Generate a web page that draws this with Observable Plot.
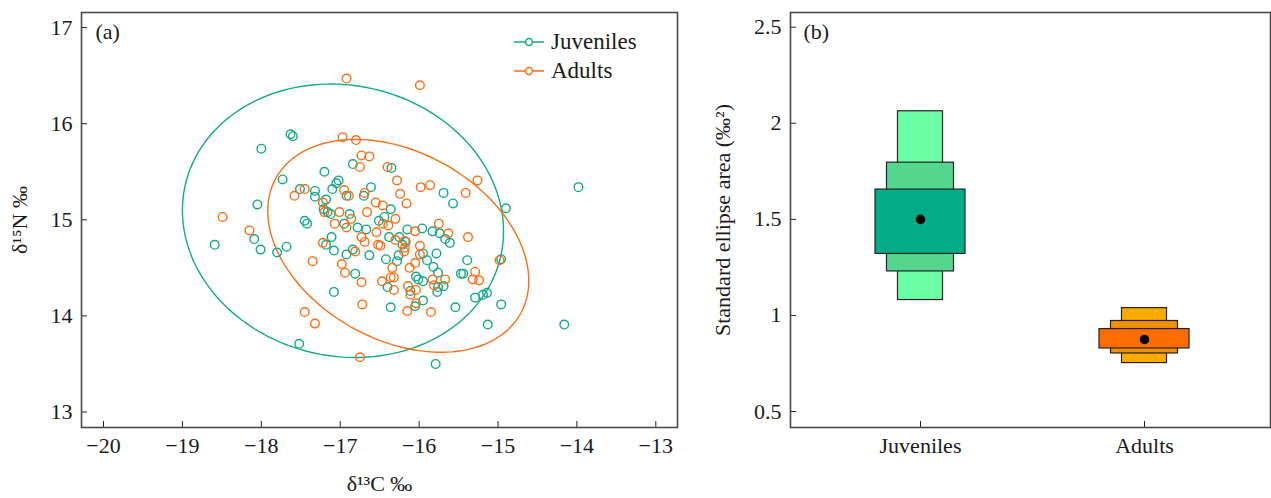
<!DOCTYPE html>
<html><head><meta charset="utf-8">
<script src="https://cdn.jsdelivr.net/npm/d3@7"></script>
<script src="https://cdn.jsdelivr.net/npm/@observablehq/plot@0.6"></script>
<style>
html,body{margin:0;padding:0;background:#fff;}
#wrap{position:relative;width:1271px;height:498px;display:flex;font-family:"Liberation Serif",serif;overflow:hidden;}
#pa,#pb{flex:none;}
#legend{position:absolute;left:0;top:0;}
</style></head><body>
<div id="wrap"><div id="pa"></div><div id="pb"></div>
<svg id="legend" width="690" height="100" font-family="Liberation Serif" font-size="23" fill="#1a1a1a">
  <line x1="514" x2="544" y1="42" y2="42" stroke="#13a98a" stroke-width="1.5"/>
  <circle cx="529" cy="42" r="3.4" fill="white" stroke="#13a98a" stroke-width="1.5"/>
  <text x="551" y="49">Juveniles</text>
  <line x1="514" x2="544" y1="71" y2="71" stroke="#fa6e15" stroke-width="1.5"/>
  <circle cx="529" cy="71" r="3.4" fill="white" stroke="#fa6e15" stroke-width="1.5"/>
  <text x="551" y="78">Adults</text>
</svg>
</div>
<script>
// ---- Panel (a) data: isotope values ----
const juvD13C = [-17.63,-17.60,-18.00,-17.73,-18.05,-17.20,-16.84,-17.02,-17.05,-17.10,-17.51,-17.32,-17.32,-17.18,-16.61,-16.70,-16.92,-17.21,-17.16,-17.12,-16.88,-17.45,-17.42,-16.95,-16.78,-16.67,-16.51,-18.59,-18.09,-18.01,-17.80,-17.68,-17.11,-17.18,-17.08,-16.84,-16.92,-16.63,-16.35,-15.69,-15.57,-14.90,-16.36,-16.44,-16.15,-15.96,-15.83,-15.74,-15.67,-15.61,-16.17,-16.21,-16.25,-16.38,-16.42,-16.26,-15.95,-15.78,-15.39,-14.96,-16.28,-15.90,-15.82,-15.76,-16.04,-16.01,-15.95,-15.47,-15.44,-15.76,-15.77,-15.69,-16.40,-16.11,-16.05,-15.95,-16.36,-16.81,-17.08,-15.54,-15.29,-15.19,-15.14,-14.96,-15.13,-17.52,-15.79,-14.16,-13.98];
const juvD15N = [15.89,15.87,15.74,15.42,15.16,15.50,15.58,15.41,15.38,15.32,15.32,15.30,15.24,15.21,15.34,15.25,15.25,15.11,15.08,15.06,15.06,14.99,14.96,14.96,14.92,14.90,14.99,14.74,14.80,14.69,14.66,14.72,14.82,14.74,14.68,14.69,14.64,14.63,15.54,15.28,15.17,15.12,15.11,15.03,14.90,14.91,14.88,14.86,14.80,14.76,14.77,14.74,14.82,14.82,14.59,14.63,14.65,14.65,14.58,14.59,14.57,14.58,14.51,14.45,14.41,14.38,14.36,14.44,14.44,14.30,14.25,14.31,14.30,14.26,14.10,14.16,14.09,14.44,14.25,14.09,14.19,14.22,14.24,14.12,13.91,13.71,13.50,13.91,15.34];
const adD13C = [-16.92,-15.99,-16.97,-16.80,-16.73,-16.63,-16.75,-18.49,-18.15,-17.58,-17.45,-17.22,-17.20,-17.07,-17.01,-16.95,-16.89,-16.92,-16.86,-16.66,-16.69,-16.55,-16.54,-16.73,-16.69,-17.22,-16.81,-16.52,-16.40,-16.28,-16.24,-16.16,-15.98,-15.86,-15.26,-15.41,-16.46,-16.30,-16.39,-16.46,-16.49,-16.30,-16.18,-16.05,-15.75,-15.63,-15.38,-17.35,-16.18,-15.99,-15.99,-16.19,-14.98,-16.98,-16.94,-16.73,-16.34,-16.36,-16.32,-16.47,-16.32,-16.12,-16.05,-16.14,-16.11,-16.04,-15.83,-15.81,-15.67,-16.04,-16.15,-15.85,-16.72,-17.45,-17.32,-16.75,-15.32,-15.29,-15.24];
const adD15N = [16.47,16.40,15.86,15.83,15.67,15.66,15.55,15.03,14.89,15.25,15.32,15.18,15.08,14.96,15.08,15.31,15.25,14.92,15.01,15.08,15.28,15.18,14.87,14.82,14.77,14.76,14.67,14.74,15.55,15.41,15.27,15.17,15.34,15.36,15.41,15.28,15.15,15.01,14.94,14.96,14.73,14.79,14.78,14.88,14.96,14.86,14.82,14.57,14.71,14.73,14.64,14.67,14.58,14.54,14.45,14.35,14.50,14.40,14.40,14.36,14.27,14.50,14.55,14.31,14.22,14.27,14.38,14.32,14.38,14.13,14.05,14.04,14.12,14.04,13.92,13.57,14.38,14.46,14.37];

// 95% ellipse parameters (centre and shape matrix)
const ellGroups = ["Juveniles", "Adults"];
const ellCx  = [-16.965, -16.264];
const ellCy  = [14.99, 14.729];
const ellSxx = [4.141, 2.736];
const ellSyy = [2.0235, 1.2254];
const ellSxy = [-0.22, -0.60];

const xTicksA = [-20,-19,-18,-17,-16,-15,-14,-13];
const yTicksA = [13,14,15,16,17];

// ---- Panel (b) data: standard ellipse area credible intervals ----
const groups = ["Juveniles", "Adults"];
const seaMode = [1.50, 0.875];
const ci95lo = [1.08, 0.752], ci95hi = [2.0625, 1.038];
const ci75lo = [1.229, 0.802], ci75hi = [1.795, 0.971];
const ci50lo = [1.32, 0.828], ci50hi = [1.655, 0.929];
const col95 = ["#6bffa3", "#ffaa00"];
const col75 = ["#55d68e", "#ef9000"];
const col50 = ["#00ad85", "#ff6d00"];
const yTicksB = [0.5, 1, 1.5, 2, 2.5];

const teal = "#13a98a", orange = "#fa6e15";
const font = {fontFamily: "Liberation Serif", fontSize: "22px", color: "#1a1a1a", background: "white"};

const juv = juvD13C.map((x, i) => ({x, y: juvD15N[i]}));
const adu = adD13C.map((x, i) => ({x, y: adD15N[i]}));
function ellipse(i) {
  const a = Math.sqrt(ellSxx[i]), b = ellSxy[i] / a, c = Math.sqrt(ellSyy[i] - b * b);
  return d3.range(0, 361, 2).map(t => {
    const r = t * Math.PI / 180;
    return {x: ellCx[i] + a * Math.cos(r), y: ellCy[i] + b * Math.cos(r) + c * Math.sin(r)};
  });
}

const A = Plot.plot({
  width: 690, height: 498, marginLeft: 81, marginRight: 13, marginTop: 12, marginBottom: 71,
  style: font,
  x: {domain: [-20.279, -12.725]},
  y: {domain: [12.839, 17.157]},
  marks: [
    Plot.axisX({ticks: xTicksA, tickSize: -6, tickPadding: 16, label: null, stroke: "#222"}),
    Plot.axisY({ticks: yTicksA, tickFormat: d => String(d), tickSize: -6, tickPadding: 15, label: null, stroke: "#222"}),
    Plot.text(["δ¹³C ‰"], {frameAnchor: "bottom", dy: 56, lineAnchor: "middle", textAnchor: "middle", fill: "#1a1a1a"}),
    Plot.text(["δ¹⁵N ‰"], {frameAnchor: "left", dx: -62, rotate: -90, lineAnchor: "middle", textAnchor: "middle", fill: "#1a1a1a"}),
    Plot.line(ellipse(0), {x: "x", y: "y", stroke: teal, strokeWidth: 1.4}),
    Plot.line(ellipse(1), {x: "x", y: "y", stroke: orange, strokeWidth: 1.4}),
    Plot.dot(juv, {x: "x", y: "y", r: 4.3, stroke: teal, strokeWidth: 1.4}),
    Plot.dot(adu, {x: "x", y: "y", r: 4.3, stroke: orange, strokeWidth: 1.4}),
    Plot.text(["(a)"], {frameAnchor: "top-left", dx: 14, dy: 19, lineAnchor: "middle", textAnchor: "start", fill: "#1a1a1a"}),
    Plot.frame({stroke: "#4a4a4a", strokeWidth: 1.6})
  ]
});
document.getElementById("pa").append(A);

const tbl = groups.map((g, i) => ({group: g, mode: seaMode[i], lo95: ci95lo[i], hi95: ci95hi[i], lo75: ci75lo[i], hi75: ci75hi[i], lo50: ci50lo[i], hi50: ci50hi[i], c95: col95[i], c75: col75[i], c50: col50[i]}));

const B = Plot.plot({
  width: 581, height: 498, marginLeft: 100, marginRight: 1, marginTop: 12, marginBottom: 71,
  style: font,
  x: {type: "band", domain: groups, paddingInner: 0.598, paddingOuter: 0.37, align: 0.513},
  y: {domain: [0.4167, 2.5765]},
  color: {type: "identity"},
  marks: [
    Plot.axisX({tickSize: -6, tickPadding: 16, label: null, stroke: "#222"}),
    Plot.axisY({ticks: yTicksB, tickFormat: d => String(d), tickSize: -6, tickPadding: 15, label: null, stroke: "#222"}),
    Plot.text(["Standard ellipse area (‰²)"], {frameAnchor: "left", dx: -68, rotate: -90, lineAnchor: "middle", textAnchor: "middle", fill: "#1a1a1a"}),
    Plot.barY(tbl, {x: "group", y1: "lo95", y2: "hi95", fill: "c95", stroke: "#222", strokeWidth: 1.2, insetLeft: 22.5, insetRight: 22.5}),
    Plot.barY(tbl, {x: "group", y1: "lo75", y2: "hi75", fill: "c75", stroke: "#222", strokeWidth: 1.2, insetLeft: 11.5, insetRight: 11.5}),
    Plot.barY(tbl, {x: "group", y1: "lo50", y2: "hi50", fill: "c50", stroke: "#222", strokeWidth: 1.2}),
    Plot.dot(tbl, {x: "group", y: "mode", r: 4.8, fill: "black"}),
    Plot.text(["(b)"], {frameAnchor: "top-left", dx: 13, dy: 19, lineAnchor: "middle", textAnchor: "start", fill: "#1a1a1a"}),
    Plot.frame({stroke: "#4a4a4a", strokeWidth: 1.6})
  ]
});
document.getElementById("pb").append(B);
</script>
</body></html>
